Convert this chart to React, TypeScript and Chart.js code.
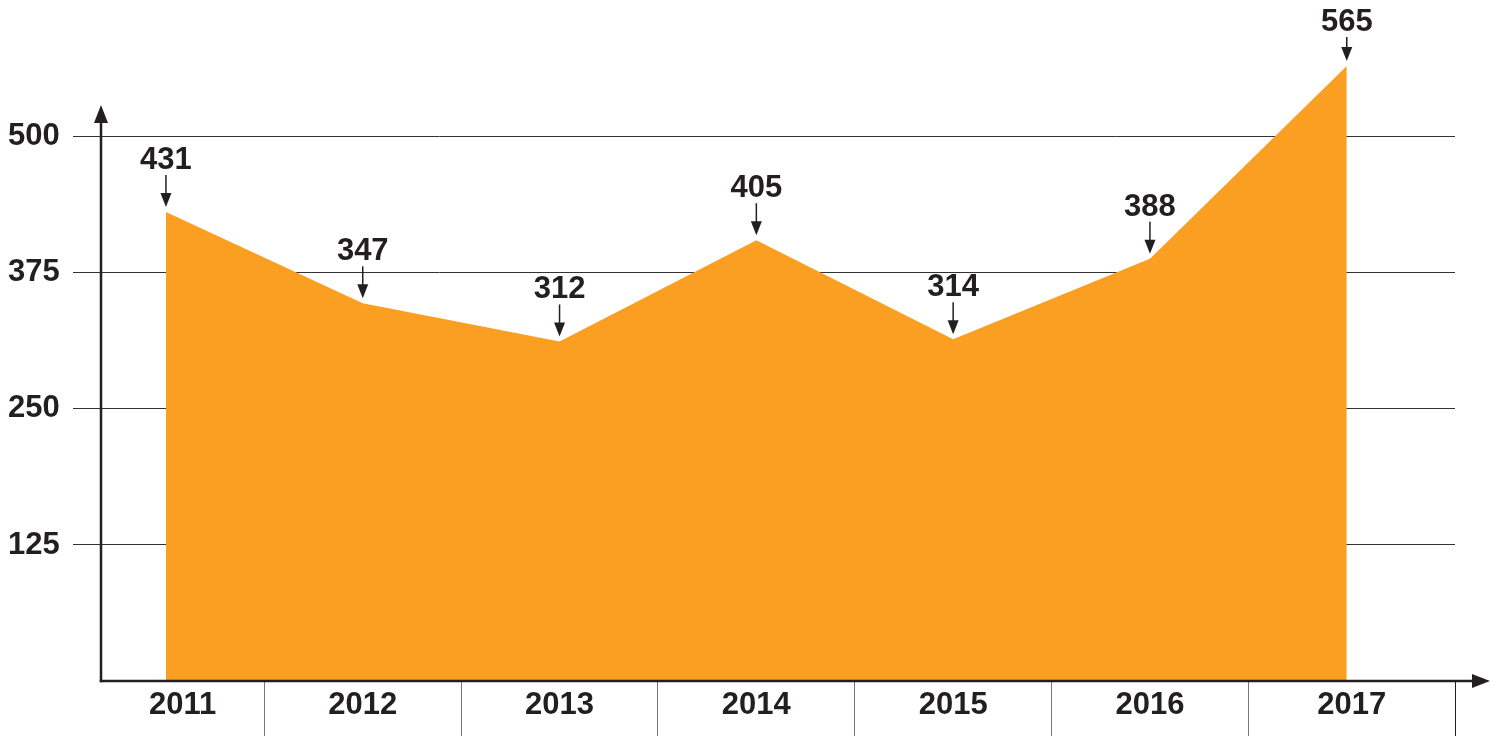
import React, { useEffect, useRef } from "react";
import { Chart, registerables } from "chart.js";

Chart.register(...registerables);

const years = [2011, 2012, 2013, 2014, 2015, 2016, 2017];
const values = [431, 347, 312, 405, 314, 388, 565];
const yTicks = [125, 250, 375, 500];

const INK = "#231F20";
const FILL = "#FA9F22";
const FONT = "'Liberation Sans', Arial, Helvetica, sans-serif";

const decorPlugin = {
  id: "decor",
  afterDraw(chart: any) {
    const { ctx, chartArea: ca, scales } = chart;
    const xs = scales.x;
    ctx.save();
    ctx.strokeStyle = INK;
    ctx.fillStyle = INK;

    // y axis with arrow
    ctx.lineWidth = 2.5;
    const axTop = ca.top + 77;
    ctx.beginPath();
    ctx.moveTo(ca.left, ca.bottom + 1.25);
    ctx.lineTo(ca.left, axTop + 12);
    ctx.stroke();
    ctx.beginPath();
    ctx.moveTo(ca.left, axTop);
    ctx.lineTo(ca.left - 7, axTop + 18);
    ctx.lineTo(ca.left + 7, axTop + 18);
    ctx.closePath();
    ctx.fill();

    // x axis with arrow
    const axRight = ca.right + 35;
    ctx.beginPath();
    ctx.moveTo(ca.left - 1.25, ca.bottom);
    ctx.lineTo(axRight - 12, ca.bottom);
    ctx.stroke();
    ctx.beginPath();
    ctx.moveTo(axRight, ca.bottom);
    ctx.lineTo(axRight - 18, ca.bottom - 7);
    ctx.lineTo(axRight - 18, ca.bottom + 7);
    ctx.closePath();
    ctx.fill();

    // category labels centred between separators
    ctx.font = `bold 31px ${FONT}`;
    ctx.textAlign = "center";
    ctx.textBaseline = "middle";
    years.forEach((yr, i) => {
      const l = i === 0 ? ca.left : xs.getPixelForValue(yr - 0.5);
      const r = i === years.length - 1 ? ca.right : xs.getPixelForValue(yr + 0.5);
      ctx.fillText(String(yr), (l + r) / 2, ca.bottom + 24);
    });

    // value labels with arrows
    const meta = chart.getDatasetMeta(0);
    meta.data.forEach((pt: any, i: number) => {
      const tip = pt.y - 5;
      const base = Math.max(pt.y - 43, 31);
      ctx.lineWidth = 1.5;
      ctx.beginPath();
      ctx.moveTo(pt.x, base + 6);
      ctx.lineTo(pt.x, tip - 10);
      ctx.stroke();
      ctx.beginPath();
      ctx.moveTo(pt.x, tip);
      ctx.lineTo(pt.x - 5.5, tip - 14);
      ctx.lineTo(pt.x + 5.5, tip - 14);
      ctx.closePath();
      ctx.fill();
      ctx.textBaseline = "alphabetic";
      ctx.fillText(String(values[i]), pt.x, base);
    });
    ctx.restore();
  },
};

export default function App() {
  const ref = useRef<HTMLCanvasElement | null>(null);

  useEffect(() => {
    document.body.style.margin = "0";
    const canvas = ref.current;
    if (!canvas) return;
    const chart = new Chart(canvas, {
      type: "line",
      data: {
        datasets: [
          {
            data: years.map((y, i) => ({ x: y, y: values[i] })),
            fill: "origin",
            backgroundColor: FILL,
            borderWidth: 0,
            borderColor: FILL,
            pointRadius: 0,
            tension: 0,
          },
        ],
      },
      options: {
        animation: false,
        responsive: false,
        devicePixelRatio: 1,
        events: [],
        layout: { padding: { left: 8, right: 45, top: 28, bottom: 0 } },
        plugins: { legend: { display: false }, tooltip: { enabled: false } },
        scales: {
          x: {
            type: "linear",
            min: 2010.67,
            max: 2017.55,
            z: 1,
            afterBuildTicks: (s: any) => {
              const t = years.slice(0, -1).map((y) => ({ value: y + 0.5 }));
              t.push({ value: s.max });
              s.ticks = t;
            },
            afterFit: (s: any) => {
              s.height = 55;
            },
            border: { display: false },
            grid: {
              drawOnChartArea: false,
              drawTicks: true,
              tickLength: 55,
              lineWidth: 1,
              color: (c: any) => (c.index === years.length - 1 ? INK : "#777"),
            },
            ticks: { callback: () => "", padding: 0, autoSkip: false, maxRotation: 0 },
          },
          y: {
            type: "linear",
            min: 0,
            max: 600,
            z: 1,
            afterBuildTicks: (s: any) => {
              s.ticks = yTicks.map((v) => ({ value: v }));
            },
            afterFit: (s: any) => {
              s.width = 93;
            },
            border: { display: false },
            grid: { color: "#333", lineWidth: 1, drawTicks: true, tickLength: 28 },
            ticks: {
              crossAlign: "far",
              color: INK,
              font: { family: FONT, size: 31, weight: "bold" },
              callback: (v: any) => String(v),
            },
          },
        },
      },
      plugins: [decorPlugin],
    } as any);
    return () => chart.destroy();
  }, []);

  return (
    <div style={{ width: 1500, height: 736 }}>
      <canvas ref={ref} width={1500} height={736} style={{ display: "block" }} />
    </div>
  );
}
